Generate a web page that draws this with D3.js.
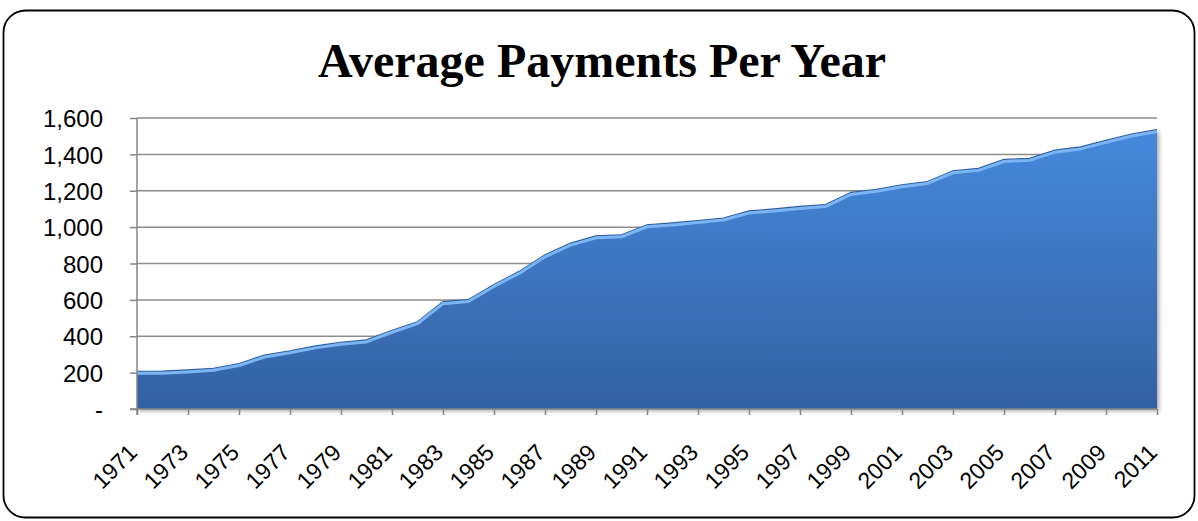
<!DOCTYPE html>
<html>
<head>
<meta charset="utf-8">
<script src="https://cdn.jsdelivr.net/npm/d3@7"></script>
<style>
  body { margin: 0; background: #fff; }
  svg { display: block; }
  .title { font-family: 'Liberation Serif', 'Times New Roman', serif; font-weight: bold; font-size: 48px; }
  .axis text { font-family: 'Liberation Sans', Arial, sans-serif; font-size: 24px; fill: #000; }
  .x.axis text { font-size: 23px; }
  .axis path, .axis line { stroke: #868686; stroke-width: 1.5px; }
  .grid line { stroke: #8c8c8c; stroke-width: 1.5px; }
</style>
</head>
<body>
<div id="chart-container"></div>
<script>
const START_YEAR = 1971;
const END_YEAR = 2011;
const YEARS = d3.range(START_YEAR, END_YEAR + 1);

// average payment per year
const payments = [
  207, 208, 215, 224, 250, 297, 320, 347, 367, 380,
  433, 480, 590, 602, 685, 758, 848, 912, 952, 958,
  1013, 1023, 1036, 1050, 1089, 1100, 1114, 1124, 1191, 1208,
  1233, 1251, 1310, 1323, 1372, 1378, 1423, 1441, 1477, 1512,
  1536
];
const yTicks = [0, 200, 400, 600, 800, 1000, 1200, 1400, 1600];
const xLabelYears = YEARS.filter((_, i) => i % 2 === 0);

const width = 1198,
  height = 521;
const margin = {top: 118, right: 41, bottom: 112, left: 137};
const gWidth = width - margin.left - margin.right;
const gHeight = height - margin.top - margin.bottom;

const svg = d3.select('div#chart-container')
  .append('svg')
  .attr('width', width)
  .attr('height', height);

const defs = svg.append('defs');
const grad = defs.append('linearGradient')
  .attr('id', 'fillGrad')
  .attr('x1', 0).attr('y1', 0).attr('x2', 0).attr('y2', 1);
grad.append('stop').attr('offset', '0%').attr('stop-color', '#4689db');
grad.append('stop').attr('offset', '100%').attr('stop-color', '#3361a3');

const shadow = defs.append('filter')
  .attr('id', 'shadow')
  .attr('x', '-5%').attr('y', '-5%').attr('width', '110%').attr('height', '115%');
shadow.append('feDropShadow')
  .attr('dx', 2).attr('dy', 2).attr('stdDeviation', 2)
  .attr('flood-color', '#000').attr('flood-opacity', 0.35);

// outer rounded frame
svg.append('rect')
  .attr('x', 3.5).attr('y', 10.5)
  .attr('width', 1191).attr('height', 507)
  .attr('rx', 22).attr('ry', 22)
  .attr('fill', '#fff')
  .attr('stroke', '#000')
  .attr('stroke-width', 1.8);

svg.append('text')
  .attr('class', 'title')
  .attr('x', 602)
  .attr('y', 77)
  .attr('text-anchor', 'middle')
  .text('Average Payments Per Year');

const g = svg.append('g')
  .attr('transform', `translate(${margin.left}, ${margin.top})`);

const xScale = d3.scaleLinear()
  .domain([START_YEAR, END_YEAR])
  .range([0, gWidth]);
const yScale = d3.scaleLinear()
  .domain([0, 1600])
  .range([gHeight, 0]);

// horizontal gridlines
g.append('g')
  .attr('class', 'grid')
  .selectAll('line')
  .data(yTicks.slice(1))
  .enter()
  .append('line')
  .attr('x1', 0)
  .attr('x2', gWidth)
  .attr('y1', d => yScale(d))
  .attr('y2', d => yScale(d));

// the area
const areaGen = d3.area()
  .x((_, i) => xScale(YEARS[i]))
  .y0(gHeight)
  .y1(d => yScale(d));
const lineGen = d3.line()
  .x((_, i) => xScale(YEARS[i]))
  .y(d => yScale(d));

g.append('path')
  .datum(payments)
  .attr('d', areaGen)
  .attr('fill', 'url(#fillGrad)')
  .attr('filter', 'url(#shadow)');

// bevel highlight along the top edge
g.append('path')
  .datum(payments)
  .attr('d', lineGen)
  .attr('fill', 'none')
  .attr('stroke', '#2f5f9e')
  .attr('stroke-width', 1.2);
g.append('path')
  .datum(payments)
  .attr('d', lineGen)
  .attr('transform', 'translate(0, 2)')
  .attr('fill', 'none')
  .attr('stroke', '#7db4f3')
  .attr('stroke-width', 3)
  .attr('stroke-linejoin', 'round');

// y axis
const yAxis = g.append('g')
  .attr('class', 'y axis')
  .call(d3.axisLeft(yScale)
    .tickValues(yTicks)
    .tickSize(7)
    .tickPadding(27)
    .tickFormat(d => d === 0 ? '-' : d3.format(',')(d)));
yAxis.select('.domain').attr('d', `M0,${yScale(1600)}V${gHeight + 6}`);
yAxis.selectAll('text').attr('dy', '0.36em');

// x axis, a tick every second year
const xAxis = g.append('g')
  .attr('class', 'x axis')
  .attr('transform', `translate(0, ${gHeight})`)
  .call(d3.axisBottom(xScale)
    .tickValues(xLabelYears)
    .tickSize(6)
    .tickFormat(d3.format('')));
xAxis.select('.domain').attr('d', `M-7,0H${gWidth}`);
xAxis.selectAll('text')
  .attr('text-anchor', 'end')
  .attr('dy', 0)
  .attr('y', 0)
  .attr('transform', 'translate(1, 45) rotate(-45)');
</script>
</body>
</html>
